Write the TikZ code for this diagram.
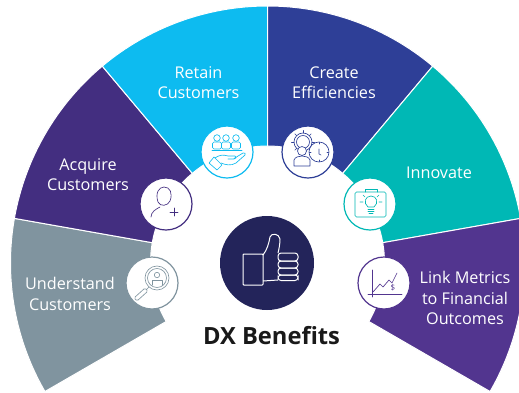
\documentclass[tikz,border=0pt]{standalone}
\usepackage{fontspec}
\usetikzlibrary{calc}
\setmainfont{Open Sans}
\definecolor{cPurple}{HTML}{52358F}
\definecolor{cAcq}{HTML}{432E80}
\definecolor{cRet}{HTML}{0DBBF0}
\definecolor{cCre}{HTML}{2E3F97}
\definecolor{cInn}{HTML}{00B8B5}
\definecolor{cUnd}{HTML}{80949F}
\definecolor{cNavy}{HTML}{23245A}
\tikzset{
  seg/.style={draw=white,line width=1pt},
  lab/.style={text=white,align=center,font=\fontsize{16.2}{20.5}\selectfont},
  badge/.style={circle,fill=white,draw=#1,line width=1.2pt,minimum size=52pt,inner sep=0pt},
  ic/.style={draw=#1,line width=.65pt,line join=round,line cap=round}
}
\newcommand{\sector}[3]{\fill[#3,seg] (#1:117) -- (#1:257) arc[start angle=#1,end angle=#2,radius=257] -- (#2:117) arc[start angle=#2,end angle=#1,radius=117] -- cycle;}
\begin{document}
\begin{tikzpicture}[x=1pt,y=1pt]
\useasboundingbox (0,0) rectangle (519,-392);
\begin{scope}[shift={(267.5,-263)}]
\sector{170}{210}{cUnd}
\sector{130}{170}{cAcq}
\sector{90}{130}{cRet}
\sector{50}{90}{cCre}
\sector{10}{50}{cInn}
\sector{-30}{10}{cPurple}
\end{scope}
\node[lab] (tRet) at (198.5,-82.5) {Retain\\Customers};
\node[lab] (tAcq) at (88,-174.5) {Acquire\\Customers};
\node[lab] (tUnd) at (70,-294) {Understand\\Customers};
\node[lab] (tCre) at (334,-82.5) {Create\\Efficiencies};
\node[lab] (tInn) at (439,-173) {Innovate};
\node[lab] (tLink) at (465,-298) {Link Metrics\\to Financial\\Outcomes};
\node[badge=cRet] (bRet) at (227,-152) {};
\node[badge=cAcq] (bAcq) at (166,-204) {};
\node[badge=cCre] (bCre) at (308,-152) {};
\node[badge=cInn] (bInn) at (370,-204) {};
\node[badge=cPurple] (bLink) at (384,-283) {};
\node[badge=cUnd] (bUnd) at (152,-283) {};
\node[circle,fill=cNavy,minimum size=94pt,inner sep=0pt] (hub) at (267,-263) {};
\node[font=\bfseries\fontsize{23.7}{26}\selectfont,text=black!90] (title) at (271.5,-336) {DX Benefits};
% retain icon
\begin{scope}[shift={(227,-152)},y=-1pt,x=1pt]
\foreach \a in {-10,-1,9}{
 \draw[ic=cRet] (\a,-14) circle (3.3);
 \draw[ic=cRet,rounded corners=1.5pt] (\a-4.5,-3) rectangle (\a+4.5,-10);
}
\draw[ic=cRet] (-15,-1.5) -- (15,-1.5);
\draw[ic=cRet] (-18,11) -- (-13,5) -- (-5,13) -- (-10,18) -- cycle;
\draw[ic=cRet] (-12,6) .. controls (-6,2) and (-3,3) .. (1,4) -- (8,4) .. controls (10,5) and (9,7) .. (7,7) -- (1,7) (7,6.5) -- (16,1) .. controls (18,0) and (19,2) .. (18,3) -- (9,11) .. controls (4,14) and (-1,13) .. (-6,11);
\end{scope}
% acquire icon
\begin{scope}[shift={(166,-204)},y=-1pt,x=1pt]
\draw[ic=cAcq] (-8,-2) .. controls (-11,-11) and (-7,-17) .. (-2,-17) .. controls (4,-17) and (7,-11) .. (4,-3) .. controls (2,2) and (-6,3) .. (-8,-2);
\draw[ic=cAcq] (-15,13) .. controls (-15,8) and (-10,5) .. (-6,3);
\draw[ic=cAcq] (8,4) -- (8,12) (4,8) -- (12,8);
\end{scope}
% create icon
\begin{scope}[shift={(308,-152)},y=-1pt,x=1pt]
\draw[ic=cCre] (-5,-10) circle (6.5);
\foreach \a in {0,45,...,315}{\draw[ic=cCre] ($(-5,-10)+(\a:9)$) -- ($(-5,-10)+(\a:11.5)$);}
\draw[ic=cCre] (-5,-10) circle (9);
\draw[ic=cCre,fill=white] (-6,-1) circle (4.5);
\draw[ic=cCre,fill=white] (-14,14) -- (-14,8) .. controls (-13,5) and (-9,4) .. (-6,4) .. controls (-3,4) and (1,5) .. (2,8) -- (2,14) -- cycle;
\draw[ic=cCre,fill=white] (11,0) circle (10);
\draw[ic=cCre] (11,-3) -- (11,2) -- (13,3);
\foreach \a in {0,90,180,270}{\draw[ic=cCre] ($(11,0)+(\a:8)$) -- ($(11,0)+(\a:9.5)$);}
\end{scope}
% innovate icon
\begin{scope}[shift={(370,-204)},y=-1pt,x=1pt]
\draw[ic=cInn,rounded corners=1.5pt] (-15,-12) rectangle (16,13);
\draw[ic=cInn] (-5,-12) -- (-5,-15) -- (7,-15) -- (7,-12);
\draw[ic=cInn] (-2,3) .. controls (-7,-1) and (-5,-8) .. (1,-8) .. controls (7,-8) and (9,-1) .. (4,3) -- cycle;
\draw[ic=cInn] (-2,5) -- (4,5) (-2,7) -- (4,7) (-1,9.5) -- (3,9.5);
\draw[ic=cInn] (-10,-2) -- (-7,-2) (9,-2) -- (12,-2) (-7,-9) -- (-5,-7) (9,-9) -- (7,-7);
\end{scope}
% link icon
\begin{scope}[shift={(384,-283)},y=-1pt,x=1pt]
\draw[ic=cPurple] (-12,-13) -- (-12,14) (-16,11) -- (18,11);
\draw[ic=cPurple] (-11,9) -- (-4,1) -- (-1,4) -- (5,-3) -- (8,0) -- (13,-10);
\node[text=cPurple,font=\fontsize{8}{8}\selectfont,inner sep=0pt] (dollar) at (9,5) {\$};
\end{scope}
% understand icon
\begin{scope}[shift={(152,-283)},y=-1pt,x=1pt]
\draw[ic=cUnd] (5,-5) circle (12);
\draw[ic=cUnd] (5,-5) circle (9.5);
\draw[ic=cUnd] (5,-8) circle (2.7);
\draw[ic=cUnd] (0,2) -- (0,-3) -- (10,-3) -- (10,2);
\draw[ic=cUnd] (-3,4) -- (-6,7);
\draw[ic=cUnd,rounded corners=1.5pt] (-7,5) -- (-18,15) -- (-15,18) -- (-4,8) -- cycle;
\end{scope}
% thumb icon
\begin{scope}[shift={(267,-263)},y=-1pt,x=1pt]
\draw[draw=white,line width=1pt,rounded corners=.8pt] (-24,-9) rectangle (-4,22);
\draw[draw=white,line width=1pt,line join=round] (-4,-8) .. controls (0,-13) and (2,-20) .. (3,-26) .. controls (4,-30) and (12,-30) .. (13,-24) .. controls (13,-19) and (12,-14) .. (11,-10);
\draw[draw=white,line width=1pt] (-4,18) -- (11,17);
\foreach \ya/\yb in {-10/-2,-2/5,5/12,12/17.5}{
 \draw[draw=white,line width=1pt,rounded corners=3pt] (11,\ya) rectangle (31,\yb);
}
\end{scope}
\end{tikzpicture}
\end{document}
